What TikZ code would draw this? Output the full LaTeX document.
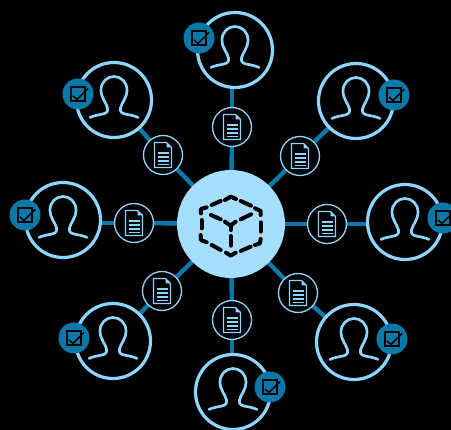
\documentclass[tikz,border=0pt]{standalone}
\definecolor{ring}{HTML}{8FD6FF}
\definecolor{link}{HTML}{0A78A8}
\definecolor{hubfill}{HTML}{A6DEFF}
\tikzset{
  x=1pt,y=-1pt,
  hubnode/.style={circle,fill=hubfill,minimum size=108pt,inner sep=0pt},
  personnode/.style={circle,draw=ring,fill=black,line width=3.2pt,minimum size=75pt,inner sep=0pt},
  docnode/.style={circle,draw=ring,line width=1.3pt,fill=black,minimum size=39pt,inner sep=0pt},
  badgenode/.style={circle,fill=link,minimum size=31pt,inner sep=0pt},
  linkline/.style={draw=link,line width=4.4pt},
  iconline/.style={draw=ring,line width=2.7pt,line cap=round,line join=round},
  personicon/.pic={
    \draw[iconline] (-24,17.5) .. controls (-15,13) and (-5,16) .. (-6.5,8)
      .. controls (-7.5,3) and (-13,-2) .. (-13,-10)
      .. controls (-13,-18) and (-7,-23.5) .. (0,-23.5)
      .. controls (7,-23.5) and (13,-18) .. (13,-10)
      .. controls (13,-2) and (7.5,3) .. (6.5,8)
      .. controls (5,16) and (15,13) .. (24,17.5);
  },
  docicon/.pic={
    \draw[draw=ring,line width=1.1pt,line join=round] (-8.5,-12.5) -- (3.5,-12.5) -- (8.5,-7.5) -- (8.5,12.5) -- (-8.5,12.5) -- cycle;
    \fill[ring] (3.5,-12.5) -- (8.5,-7.5) -- (3.5,-7.5) -- cycle;
    \foreach \yy in {-2,2,6,9.5}{\draw[ring,line width=1.3pt] (-5.5,\yy) -- (5.5,\yy);}
  },
  checkicon/.pic={
    \draw[black,line width=1.4pt] (-7,-7) rectangle (7,7);
    \draw[black,line width=1.5pt] (-5,2) -- (-1,5.5) -- (10,-5.5);
  },
  cubeedge/.style={draw=black,line width=4pt,line cap=round,line join=round},
}
\begin{document}
\begin{tikzpicture}
\useasboundingbox (0,0) rectangle (451,430);
\fill[black] (0,0) rectangle (451,430);
% invisible anchors so that the connectors can be drawn first, beneath the nodes
\foreach \n/\px/\py/\dx/\dy in {
  t/235/50/232/127,
  ul/114/100/163/155,
  ur/356/101/300/156,
  l/63/220/134/223,
  r/405/222/327/224,
  ll/113/341/162/291,
  lr/354/342/298/293,
  b/233/392/232/320}{
  \coordinate (p\n) at (\px,\py);
  \coordinate (d\n) at (\dx,\dy);
}
\coordinate (hub) at (231,224);
\foreach \n in {ul,ur,ll,lr,t,b,l,r}{\draw[linkline] (hub |- hub) -- (d\n);}
\foreach \n in {ul,ur,ll,lr}{\draw[linkline] (d\n) -- (p\n);}
\draw[linkline] (dt) -- (dt |- pt);
\draw[linkline] (db) -- (db |- pb);
\draw[linkline] (dl) -- (pl |- dl);
\draw[linkline] (dr) -- (pr |- dr);
\foreach \n/\dx/\dy/\bx/\by in {
  t/232/127/199/38,
  ul/163/155/78/94,
  ur/300/156/394/95,
  l/134/223/25/215,
  r/327/224/443/218,
  ll/162/291/74/338,
  lr/298/293/392/339,
  b/232/320/270/387}{
  \node[personnode] (person\n) at (p\n) {};
  \node[docnode] (doc\n) at (d\n) {};
  \pic at (p\n) {personicon};
  \pic at (d\n) {docicon};
  \node[badgenode] (badge\n) at (\bx,\by) {};
  \pic at (\bx,\by) {checkicon};
}
\node[hubnode] (hubcircle) at (hub) {};
\begin{scope}[shift={(170,165)},x=0.3333pt,y=-0.3333pt]
  \draw[cubeedge] (165,105) -- (182,95) -- (198,102);
  \draw[cubeedge] (212,108) -- (243,122);
  \draw[cubeedge] (255,130) -- (272,138) -- (272,150);
  \draw[cubeedge] (272,172) -- (272,200);
  \draw[cubeedge] (272,222) -- (270,235) -- (255,240);
  \draw[cubeedge] (242,245) -- (212,258);
  \draw[cubeedge] (197,263) -- (182,272) -- (168,263);
  \draw[cubeedge] (152,255) -- (125,240);
  \draw[cubeedge] (110,232) -- (93,225) -- (92,210);
  \draw[cubeedge] (95,190) -- (95,165);
  \draw[cubeedge] (93,145) -- (93,132) -- (110,127);
  \draw[cubeedge] (125,120) -- (152,108);
  \draw[cubeedge] (123,150) -- (152,163);
  \draw[cubeedge] (212,163) -- (243,148);
  \draw[cubeedge] (165,170) -- (182,182) -- (197,170);
  \draw[cubeedge] (182,182) -- (182,195);
  \draw[cubeedge] (182,213) -- (182,242);
\end{scope}
\end{tikzpicture}
\end{document}
